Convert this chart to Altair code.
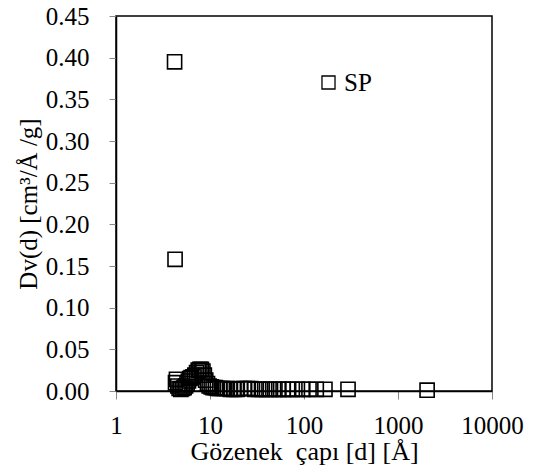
import altair as alt
import pandas as pd

pore_width = [4.20, 4.25, 4.30, 4.40, 4.55, 4.7, 4.9, 5.1, 5.3, 5.5, 5.7, 5.9, 6.1, 6.3, 6.6, 6.9,
              7.2, 7.5, 7.8, 8.1, 8.4, 8.7, 9.0, 9.4, 9.8, 10.3, 10.8, 11.4, 12.0, 12.7, 13.5,
              14.3, 15.3, 16.5, 18.0, 19.5, 21.0, 23.0, 25.0, 27.0, 30.0, 33.0, 36.0, 40.0,
              44.0, 49.0, 54.0, 60.0, 67.0, 75.0, 85.0, 97.0, 113.0, 135.0, 167.0, 294.0, 2040.0]
dv = [0.395, 0.158, 0.010, 0.014, 0.006, 0.003, 0.002, 0.003, 0.004, 0.006, 0.009, 0.012,
      0.015, 0.016, 0.017, 0.019, 0.022, 0.025, 0.026, 0.026, 0.024, 0.019, 0.013, 0.009,
      0.006, 0.005, 0.004, 0.004, 0.003, 0.003, 0.003, 0.003, 0.003, 0.002, 0.002, 0.002,
      0.003, 0.003, 0.003, 0.003, 0.002, 0.002, 0.002, 0.002, 0.002, 0.002, 0.002, 0.002,
      0.002, 0.002, 0.002, 0.002, 0.002, 0.002, 0.002, 0.002, 0.001]
series_name = "SP"
x_ticks = [1, 10, 100, 1000, 10000]
y_ticks = [0.0, 0.05, 0.10, 0.15, 0.20, 0.25, 0.30, 0.35, 0.40, 0.45]

df = pd.DataFrame({"d": pore_width, "dv": dv, "series": series_name})

FONT = "Liberation Serif"

chart = alt.Chart(df).mark_point(
    shape="square", filled=False, size=200, strokeWidth=1.6, clip=False, opacity=1
).encode(
    x=alt.X("d:Q", scale=alt.Scale(type="log", domain=[1, 10000]),
            axis=alt.Axis(values=x_ticks, format="d", title="Gözenek\u00a0 çapı [d] [Å]",
                          grid=False, tickSize=8, labelPadding=14, titlePadding=0,
                          labelFlush=False, labelFont=FONT, labelFontSize=25,
                          titleFont=FONT, titleFontSize=26)),
    y=alt.Y("dv:Q", scale=alt.Scale(domain=[0, 0.45], nice=False),
            axis=alt.Axis(values=y_ticks, format=".2f", title="Dv(d) [cm³/Å /g]",
                          grid=False, tickSize=7, labelPadding=20, titlePadding=4,
                          labelFont=FONT, labelFontSize=25,
                          titleFont=FONT, titleFontSize=25)),
    color=alt.Color("series:N", scale=alt.Scale(range=["black"]),
                    legend=alt.Legend(title=None, orient="none", legendX=200, legendY=54,
                                      symbolType="square", symbolSize=170,
                                      symbolStrokeWidth=1.3, symbolFillColor="white",
                                      labelFontSize=25, labelFont=FONT, labelColor="black",
                                      padding=0, labelOffset=3)),
).properties(
    width=376, height=375,
    padding={"left": 116, "top": 16, "right": 42, "bottom": 76},
    autosize=alt.AutoSizeParams(type="none"),
).configure_view(
    stroke="black", strokeWidth=1.5
).configure_axis(
    labelColor="black", titleColor="black", titleFontWeight="normal",
    domainColor="black", tickColor="#888", domainWidth=1.5
)

chart.save("out.html", embed_options={"renderer": "svg", "actions": False})
